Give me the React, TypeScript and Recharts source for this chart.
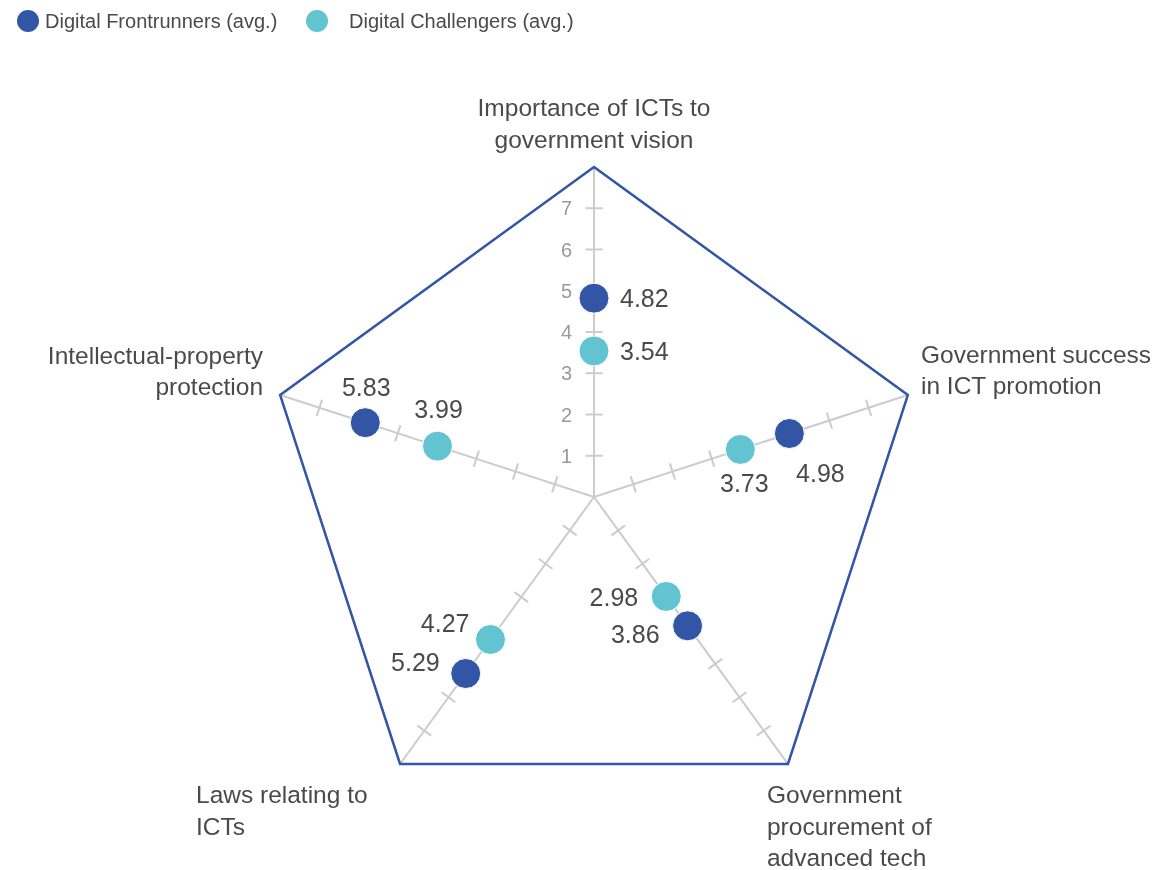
import React from 'react';
import { RadarChart, Radar, PolarGrid, PolarAngleAxis, PolarRadiusAxis, Legend } from 'recharts';

const categories = [
  'Importance of ICTs to government vision',
  'Government success in ICT promotion',
  'Government procurement of advanced tech',
  'Laws relating to ICTs',
  'Intellectual-property protection',
];
const categoryLines = [
  ['Importance of ICTs to', 'government vision'],
  ['Government success', 'in ICT promotion'],
  ['Government', 'procurement of', 'advanced tech'],
  ['Laws relating to', 'ICTs'],
  ['Intellectual-property', 'protection'],
];
const frontrunners = [4.82, 4.98, 3.86, 5.29, 5.83];
const challengers = [3.54, 3.73, 2.98, 4.27, 3.99];
const radiusTicks = [1, 2, 3, 4, 5, 6, 7];
const axisMax = 8;

const seriesNames = ['Digital Frontrunners (avg.)', 'Digital Challengers (avg.)'];
const FR_COLOR = '#3256A5';
const CH_COLOR = '#62C4D1';
const FONT = '"Helvetica Neue", "Liberation Sans", Arial, sans-serif';
const TEXT_COLOR = '#4a4a4a';

const data = categories.map((c, i) => ({
  category: c,
  fr: frontrunners[i],
  ch: challengers[i],
  max: axisMax,
}));

// per-label placement relative to the dot: [dx, dy(center), anchor]
const frLabelPos: [number, number, string][] = [
  [26, 0, 'start'],
  [31, 39, 'middle'],
  [-28, 8, 'end'],
  [-26, -12, 'end'],
  [1, -36, 'middle'],
];
const chLabelPos: [number, number, string][] = [
  [26, 0, 'start'],
  [4, 34, 'middle'],
  [-28, 1, 'end'],
  [-21, -16, 'end'],
  [1, -37, 'middle'],
];

// angle-axis label placement relative to tick point: [dx, first line center dy, anchor]
const catLabelPos: [number, number, string][] = [
  [0, -52, 'middle'],
  [5.5, -38.6, 'start'],
  [-25.7, 23.6, 'start'],
  [-199.3, 23.6, 'start'],
  [-9.5, -37.6, 'end'],
];

const makeDot = (values: number[], color: string, pos: [number, number, string][]) => (props: any) => {
  const { cx, cy, index } = props;
  const [dx, dy, anchor] = pos[index];
  return (
    <g key={`d-${index}`}>
      <circle cx={cx} cy={cy} r={15} fill={color} stroke="#fff" strokeWidth={1} />
      <text
        x={cx + dx}
        y={cy + dy + 9}
        textAnchor={anchor as any}
        fontSize={25}
        fill={TEXT_COLOR}
        fontFamily={FONT}
      >
        {values[index].toFixed(2)}
      </text>
    </g>
  );
};

const makeRadiusTick = (axisIndex: number) => (props: any) => {
  const { x, y, payload } = props;
  const v = payload.value;
  if (!radiusTicks.includes(v)) return <g />;
  const a = ((90 - 72 * axisIndex) * Math.PI) / 180;
  const px = Math.sin(a);
  const py = Math.cos(a);
  const h = 8.5;
  return (
    <g>
      <line x1={x - px * h} y1={y - py * h} x2={x + px * h} y2={y + py * h} stroke="#cccccc" strokeWidth={2} />
      {axisIndex === 0 && (
        <text x={x - 22} y={y + 7} textAnchor="end" fontSize={20} fill="#9a9a9a" fontFamily={FONT}>
          {v}
        </text>
      )}
    </g>
  );
};

const renderAngleTick = (props: any) => {
  const { x, y, index } = props;
  const [dx, dy, anchor] = catLabelPos[index];
  const lines = categoryLines[index];
  return (
    <g>
      {lines.map((l, k) => (
        <text
          key={k}
          x={x + dx}
          y={y + dy + k * 31.5 + 9}
          textAnchor={anchor as any}
          fontSize={24.5}
          fill={TEXT_COLOR}
          fontFamily={FONT}
        >
          {l}
        </text>
      ))}
    </g>
  );
};

const renderLegend = () => (
  <div style={{ position: 'relative', width: 700, height: 34, fontFamily: FONT, fontSize: 20, color: TEXT_COLOR }}>
    <div style={{ position: 'absolute', left: 17, top: 10, width: 22, height: 22, borderRadius: 11, background: FR_COLOR }} />
    <div style={{ position: 'absolute', left: 45, top: 9, lineHeight: '24px', whiteSpace: 'nowrap' }}>{seriesNames[0]}</div>
    <div style={{ position: 'absolute', left: 306, top: 10, width: 22, height: 22, borderRadius: 11, background: CH_COLOR }} />
    <div style={{ position: 'absolute', left: 349, top: 9, lineHeight: '24px', whiteSpace: 'nowrap' }}>{seriesNames[1]}</div>
  </div>
);

export default function App() {
  return (
    <div style={{ position: 'fixed', top: 0, left: 0, width: 1154, height: 870, overflow: 'visible' }}>
      <RadarChart
        width={1154}
        height={870}
        data={data}
        cx={594}
        cy={497}
        outerRadius={330}
        margin={{ top: 0, right: 0, bottom: 0, left: 0 }}
      >
        <PolarGrid gridType="polygon" polarRadius={[330]} stroke="#cccccc" strokeWidth={2} />
        <PolarAngleAxis dataKey="category" tick={renderAngleTick} axisLine={false} tickLine={false} />
        {[0, 1, 2, 3, 4].map((i) => (
          <PolarRadiusAxis
            key={i}
            radiusAxisId={i}
            angle={90 - 72 * i}
            type="number"
            domain={[0, axisMax]}
            tickCount={9}
            axisLine={false}
            tick={makeRadiusTick(i)}
          />
        ))}
        <Legend verticalAlign="middle" align="left" layout="horizontal" wrapperStyle={{ top: 0, left: 0 }} content={renderLegend} />
        {[1, 2, 3, 4].map((i) => (
          <Radar
            key={`axis-anchor-${i}`}
            dataKey="max"
            radiusAxisId={i}
            stroke="none"
            fill="none"
            fillOpacity={0}
            dot={false}
            legendType="none"
            isAnimationActive={false}
          />
        ))}
        <Radar
          dataKey="max"
          radiusAxisId={0}
          stroke="#3356A6"
          strokeWidth={2.5}
          fill="none"
          fillOpacity={0}
          dot={false}
          legendType="none"
          isAnimationActive={false}
        />
        <Radar
          name={seriesNames[1]}
          dataKey="ch"
          radiusAxisId={0}
          stroke="none"
          fill="none"
          fillOpacity={0}
          dot={makeDot(challengers, CH_COLOR, chLabelPos)}
          isAnimationActive={false}
        />
        <Radar
          name={seriesNames[0]}
          dataKey="fr"
          radiusAxisId={0}
          stroke="none"
          fill="none"
          fillOpacity={0}
          dot={makeDot(frontrunners, FR_COLOR, frLabelPos)}
          isAnimationActive={false}
        />
      </RadarChart>
    </div>
  );
}
